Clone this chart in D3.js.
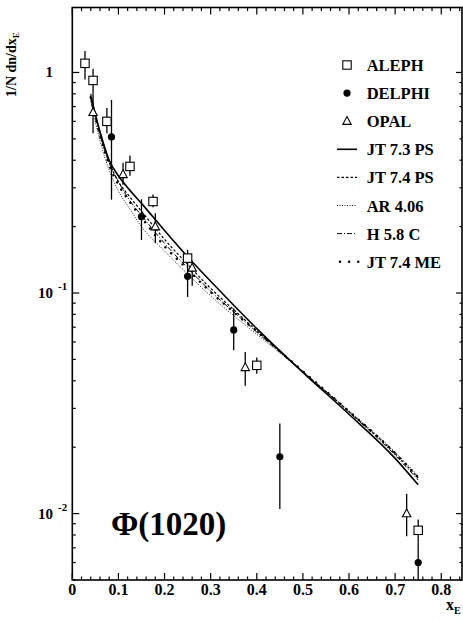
<!DOCTYPE html>
<html><head><meta charset="utf-8">
<script src="https://cdn.jsdelivr.net/npm/d3@7"></script>
<style>body{margin:0;background:#fff}svg{display:block}text{font-family:"Liberation Serif","Times New Roman",serif;font-weight:bold;fill:#000}</style>
</head><body><svg id="c" width="463" height="622"></svg>
<script>
// ---- data ----
const alephX = [0.0275, 0.045, 0.075, 0.125, 0.175, 0.25, 0.40, 0.75];
const alephY = [1.10, 0.92, 0.60, 0.375, 0.26, 0.144, 0.047, 0.0084];
const alephHi = [1.25, 1.04, 0.69, 0.42, 0.28, 0.157, 0.051, 0.0094];
const alephLo = [0.93, 0.80, 0.53, 0.34, 0.245, 0.133, 0.043, 0.0074];

const delphiX = [0.085, 0.15, 0.25, 0.35, 0.45, 0.75];
const delphiY = [0.51, 0.222, 0.119, 0.068, 0.0181, 0.0060];
const delphiHi = [0.75, 0.266, 0.134, 0.085, 0.0256, 0.0074];
const delphiLo = [0.265, 0.174, 0.096, 0.055, 0.0105, 0.0049];

const opalX = [0.045, 0.11, 0.18, 0.26, 0.375, 0.725];
const opalY = [0.66, 0.345, 0.20, 0.13, 0.046, 0.0100];
const opalHi = [0.80, 0.39, 0.23, 0.14, 0.054, 0.0123];
const opalLo = [0.53, 0.31, 0.168, 0.108, 0.038, 0.0079];

const modelX = [0.04, 0.06, 0.08, 0.10, 0.125, 0.15, 0.20, 0.25, 0.30, 0.35, 0.40, 0.50, 0.60, 0.70, 0.75];
const jt73ps = [0.78, 0.54, 0.40, 0.34, 0.292, 0.255, 0.192, 0.146, 0.113, 0.088, 0.069, 0.0437, 0.0282, 0.0178, 0.0135];
const jt74ps = [0.80, 0.53, 0.39, 0.32, 0.272, 0.235, 0.175, 0.135, 0.105, 0.084, 0.0675, 0.0440, 0.0290, 0.0187, 0.0145];
const ar406 = [0.74, 0.49, 0.36, 0.29, 0.240, 0.200, 0.155, 0.122, 0.097, 0.079, 0.065, 0.0440, 0.0292, 0.0190, 0.0148];
const h58c = [0.76, 0.52, 0.39, 0.32, 0.262, 0.225, 0.168, 0.130, 0.102, 0.082, 0.0665, 0.0438, 0.0288, 0.0184, 0.0142];
const jt74me = [0.77, 0.52, 0.38, 0.31, 0.258, 0.220, 0.163, 0.128, 0.101, 0.082, 0.067, 0.0442, 0.0291, 0.0188, 0.0146];

const xTicks = [0, 0.1, 0.2, 0.3, 0.4, 0.5, 0.6, 0.7, 0.8];
const xTickLabels = ["0", "0.1", "0.2", "0.3", "0.4", "0.5", "0.6", "0.7", "0.8"];
const yMajor = [1, 0.1, 0.01];
const yTickLabels = [["1", ""], ["10", "-1"], ["10", "-2"]];
const legendLabels = ["ALEPH", "DELPHI", "OPAL", "JT 7.3 PS", "JT 7.4 PS", "AR 4.06", "H 5.8 C", "JT 7.4 ME"];

// ---- layout ----
const L = 72.3, R = 462, T = 7.5, B = 580;
const svg = d3.select("#c");
svg.append("rect").attr("width", 463).attr("height", 622).attr("fill", "#fff");
const x = d3.scaleLinear().domain([0, 0.845]).range([L, R]);
const y = d3.scaleLog().domain([0.005, 1.97]).range([B, T]);

const g = svg.append("g");
const tickCol = "#000";
// x ticks (bottom & top, inward)
const xMinor = d3.range(0, 0.8401, 0.02);
xMinor.forEach(v => {
  const isMaj = Math.abs(v * 10 - Math.round(v * 10)) < 1e-6;
  const len = isMaj ? 7 : 3.5;
  g.append("line").attr("x1", x(v)).attr("x2", x(v)).attr("y1", B).attr("y2", B - len).attr("stroke", tickCol).attr("stroke-width", 1.2);
  g.append("line").attr("x1", x(v)).attr("x2", x(v)).attr("y1", T).attr("y2", T + len).attr("stroke", tickCol).attr("stroke-width", 1.2);
});
// y ticks
const yMin = [];
[0.001, 0.01, 0.1, 1].forEach(d => { for (let k = 1; k < 10; k++) { const v = d * k; if (v >= 0.005 && v <= 1.97) yMin.push([v, k === 1]); } });
yMin.forEach(([v, maj]) => {
  const len = maj ? 7 : 3.5;
  g.append("line").attr("x1", L).attr("x2", L + len).attr("y1", y(v)).attr("y2", y(v)).attr("stroke", tickCol).attr("stroke-width", 1.2);
  g.append("line").attr("x1", R).attr("x2", R - (maj ? 6 : 2.5)).attr("y1", y(v)).attr("y2", y(v)).attr("stroke", tickCol).attr("stroke-width", 1.2);
});
// frame
g.append("rect").attr("x", L).attr("y", T).attr("width", R - L).attr("height", B - T).attr("fill", "none").attr("stroke", "#000").attr("stroke-width", 1.6);

// tick labels
xTicks.forEach((v, i) => {
  svg.append("text").attr("x", x(v)).attr("y", 595).attr("text-anchor", "middle").attr("font-size", 16).text(xTickLabels[i]);
});
yMajor.forEach((v, i) => {
  const [base, sup] = yTickLabels[i];
  svg.append("text").attr("x", 53).attr("y", y(v) + 5).attr("text-anchor", "end").attr("font-size", 15).text(base);
  if (sup) svg.append("text").attr("x", 58).attr("y", y(v) - 3).attr("font-size", 11).text(sup);
});
// axis titles
const xt = svg.append("text").attr("x", 446).attr("y", 610).attr("font-size", 16);
xt.append("tspan").text("x");
xt.append("tspan").attr("font-size", 10).attr("dy", 4).text("E");
const yt = svg.append("text").attr("transform", "translate(16,97) rotate(-90)").attr("font-size", 14);
yt.append("tspan").text("1/N dn/dx");
yt.append("tspan").attr("font-size", 9).attr("dy", 3).text("E");

// models
const styles = [
  { data: jt73ps, dash: null, w: 1.6, cap: "butt" },
  { data: jt74ps, dash: "2.5,2", w: 1.2, cap: "butt" },
  { data: ar406, dash: "1,1.5", w: 0.9, cap: "butt" },
  { data: h58c, dash: "5,2,1,2", w: 1.0, cap: "butt" },
  { data: jt74me, dash: "0.1,8", w: 2.4, cap: "round" }
];
const line = d3.line().x(d => x(d[0])).y(d => y(d[1])).curve(d3.curveMonotoneX);
styles.forEach(s => {
  g.append("path").attr("d", line(modelX.map((v, i) => [v, s.data[i]]))).attr("fill", "none")
    .attr("stroke", "#000").attr("stroke-width", s.w).attr("stroke-dasharray", s.dash).attr("stroke-linecap", s.cap);
});

// data points
function errs(xs, lo, hi) {
  xs.forEach((v, i) => {
    g.append("line").attr("x1", x(v)).attr("x2", x(v)).attr("y1", y(Math.max(lo[i], 0.005))).attr("y2", y(hi[i])).attr("stroke", "#000").attr("stroke-width", 1.3);
  });
}
errs(alephX, alephLo, alephHi);
errs(delphiX, delphiLo, delphiHi);
errs(opalX, opalLo, opalHi);
function square(sel, cx, cy) { sel.append("rect").attr("x", cx - 4.2).attr("y", cy - 4.2).attr("width", 8.4).attr("height", 8.4).attr("fill", "#fff").attr("stroke", "#000").attr("stroke-width", 1.1); }
function circle(sel, cx, cy) { sel.append("circle").attr("cx", cx).attr("cy", cy).attr("r", 3.6).attr("fill", "#000"); }
function tri(sel, cx, cy) { sel.append("path").attr("d", `M${cx},${cy - 4.6}L${cx + 4.2},${cy + 3.2}L${cx - 4.2},${cy + 3.2}Z`).attr("fill", "#fff").attr("stroke", "#000").attr("stroke-width", 1.1); }
alephX.forEach((v, i) => square(g, x(v), y(alephY[i])));
delphiX.forEach((v, i) => circle(g, x(v), y(delphiY[i])));
opalX.forEach((v, i) => tri(g, x(v), y(opalY[i])));

// legend
const ly0 = 65, ldy = 28.1, lmx = 347, ltx = 366.7;
legendLabels.forEach((lab, i) => {
  const cy = ly0 + i * ldy;
  if (i === 0) square(svg, lmx, cy);
  else if (i === 1) circle(svg, lmx, cy);
  else if (i === 2) tri(svg, lmx, cy);
  else {
    const s = styles[i - 3];
    svg.append("line").attr("x1", 337).attr("x2", 357).attr("y1", cy).attr("y2", cy).attr("stroke", "#000")
      .attr("stroke-width", s.w).attr("stroke-dasharray", i === 7 ? "0.1,9" : s.dash).attr("stroke-linecap", s.cap)
      .attr("transform", i === 7 ? "translate(3,0)" : null);
  }
  svg.append("text").attr("x", ltx).attr("y", cy + 6).attr("font-size", 16.5).text(lab);
});

// label
svg.append("text").attr("x", 111).attr("y", 535).attr("font-size", 33).text("Φ(1020)");
</script></body></html>
